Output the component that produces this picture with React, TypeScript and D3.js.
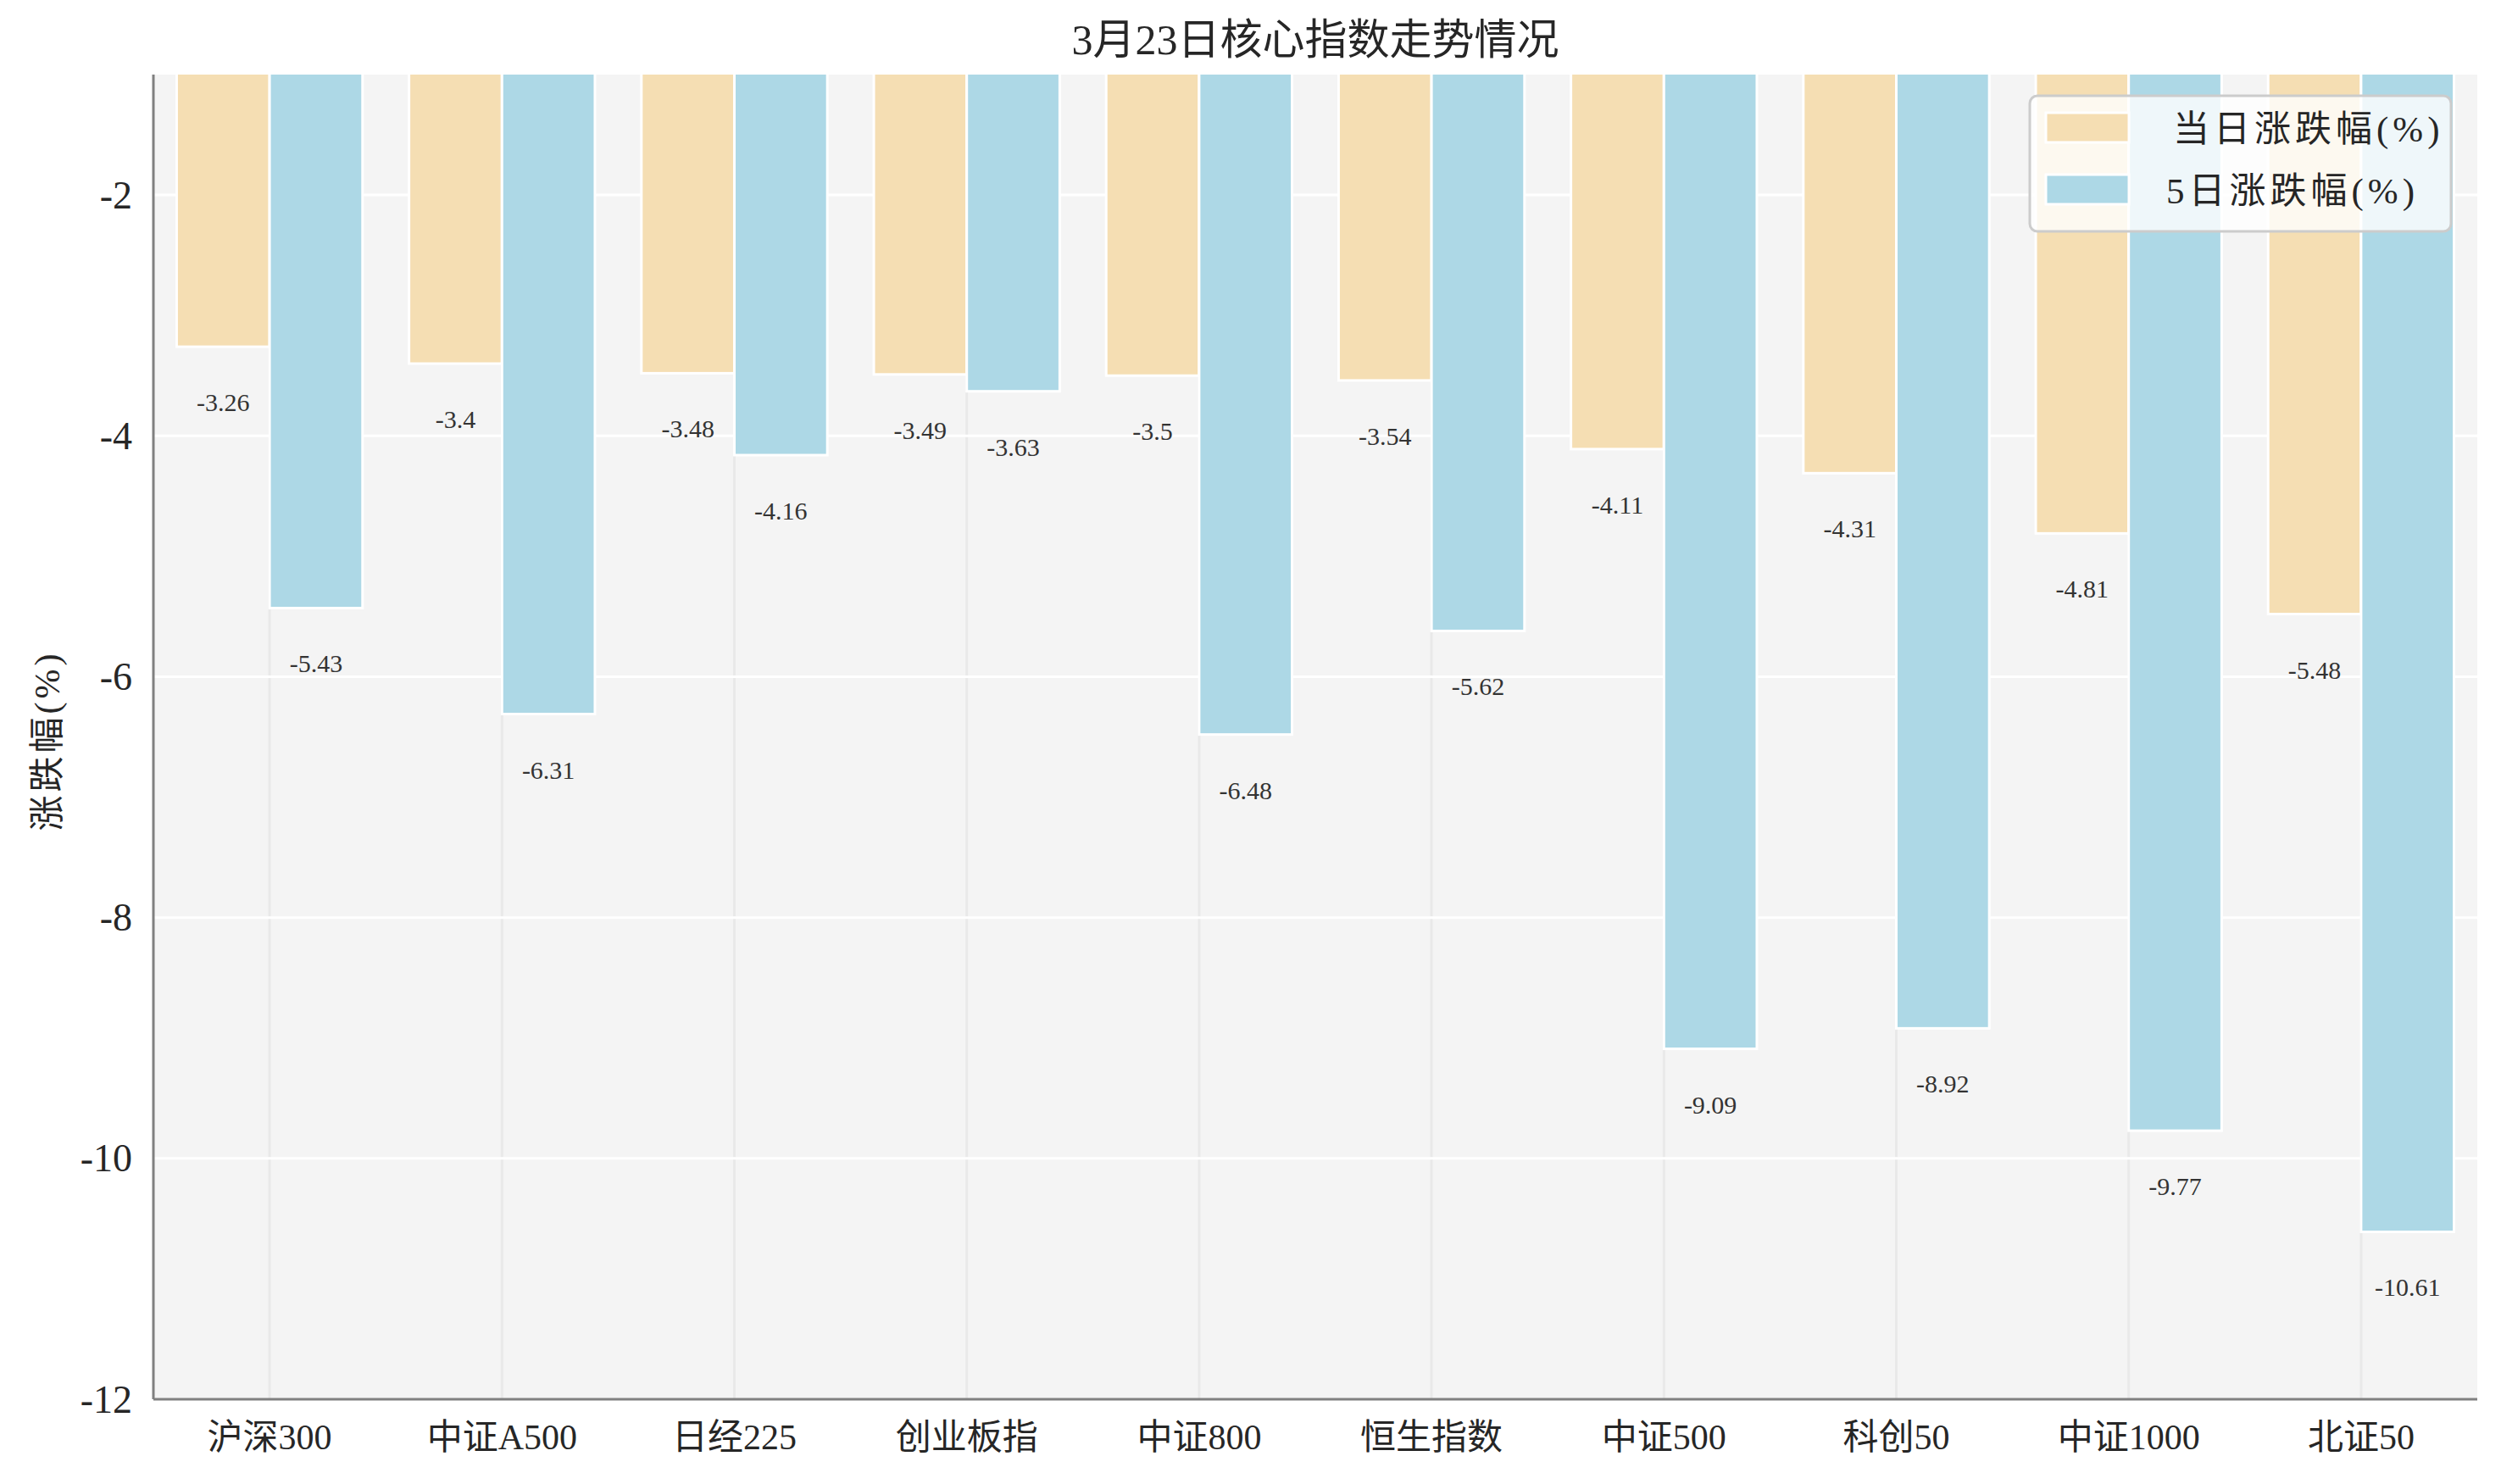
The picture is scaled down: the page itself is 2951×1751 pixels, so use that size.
import React from "react";
import * as d3 from "d3";

const categories = ["沪深300", "中证A500", "日经225", "创业板指", "中证800", "恒生指数", "中证500", "科创50", "中证1000", "北证50"];
const dayChange = [-3.26, -3.4, -3.48, -3.49, -3.5, -3.54, -4.11, -4.31, -4.81, -5.48];
const fiveDayChange = [-5.43, -6.31, -4.16, -3.63, -6.48, -5.62, -9.09, -8.92, -9.77, -10.61];
const yTicks = [-2, -4, -6, -8, -10, -12];
const seriesNames = ["当日涨跌幅(%)", "5日涨跌幅(%)"];
const title = "3月23日核心指数走势情况";
const yLabel = "涨跌幅(%)";

const W = 2951;
const H = 1751;
const FONT = "'Liberation Serif', 'Noto Sans CJK SC', serif";
const COLORS = ["#f5deb3", "#add8e6"];

export default function App() {
  const left = 181, right = 2923, top = 88, bottom = 1651;
  const x = d3.scaleBand<string>().domain(categories).range([left, right]).padding(0);
  const y = d3.scaleLinear().domain([-12, -1]).range([bottom, top]);
  const barW = x.bandwidth() * 0.4;
  const center = (c: string) => (x(c) as number) + x.bandwidth() / 2;
  const series = [dayChange, fiveDayChange];

  return (
    <svg width={W} height={H} style={{ position: "absolute", left: 0, top: 0, background: "#fff" }} fontFamily={FONT}>
      <defs>
        <clipPath id="plot">
          <rect x={left} y={top} width={right - left} height={bottom - top} />
        </clipPath>
      </defs>
      <rect x={0} y={0} width={W} height={H} fill="#fff" />
      <rect x={left} y={top} width={right - left} height={bottom - top} fill="#f4f4f4" />
      {categories.map((c) => (
        <line key={"vg" + c} x1={center(c)} x2={center(c)} y1={top} y2={bottom} stroke="#e9e9e9" strokeWidth={3} />
      ))}
      {yTicks.filter((t) => t > -12).map((t) => (
        <line key={"hg" + t} x1={left} x2={right} y1={y(t)} y2={y(t)} stroke="#ffffff" strokeWidth={3} />
      ))}
      <g clipPath="url(#plot)">
        {series.map((vals, si) =>
          categories.map((c, i) => {
            const x0 = si === 0 ? center(c) - barW : center(c);
            const y0 = y(0);
            const y1 = y(vals[i]);
            return (
              <rect key={si + c} x={x0} y={y0} width={barW} height={y1 - y0} fill={COLORS[si]} stroke="#fff" strokeWidth={3} />
            );
          })
        )}
      </g>
      {series.map((vals, si) =>
        categories.map((c, i) => {
          const cx = si === 0 ? center(c) - barW / 2 : center(c) + barW / 2;
          return (
            <text key={"l" + si + c} x={cx} y={y(vals[i]) + 76} textAnchor="middle" fontSize={30} fill="#333">
              {String(vals[i])}
            </text>
          );
        })
      )}
      <line x1={left} x2={left} y1={top} y2={bottom} stroke="#808080" strokeWidth={3} />
      <line x1={left} x2={right} y1={bottom} y2={bottom} stroke="#808080" strokeWidth={3} />
      {yTicks.map((t) => (
        <text key={"yt" + t} x={156} y={y(t)} textAnchor="end" dominantBaseline="central" fontSize={46} fill="#262626">
          {String(t)}
        </text>
      ))}
      {categories.map((c) => (
        <text key={"xt" + c} x={center(c)} y={1710} textAnchor="middle" fontSize={42} fill="#262626">
          {c}
        </text>
      ))}
      <text x={56} y={874} transform="rotate(-90 56 874)" textAnchor="middle" dominantBaseline="central" fontSize={42} letterSpacing={4} fill="#262626">
        {yLabel}
      </text>
      <text x={(left + right) / 2} y={47} textAnchor="middle" dominantBaseline="central" fontSize={50} fill="#262626">
        {title}
      </text>
      <g>
        <rect x={2395} y={113} width={497} height={160} rx={9} fill="#ffffff" fillOpacity={0.8} stroke="#cccccc" strokeWidth={3} />
        {seriesNames.map((n, i) => (
          <g key={n}>
            <rect x={2414} y={133 + i * 73} width={98} height={35} fill={COLORS[i]} stroke="#fff" strokeWidth={3} />
            <text x={i === 0 ? 2564 : 2556} y={152 + i * 73} dominantBaseline="central" fontSize={43} letterSpacing={5} fill="#262626">
              {n}
            </text>
          </g>
        ))}
      </g>
    </svg>
  );
}
